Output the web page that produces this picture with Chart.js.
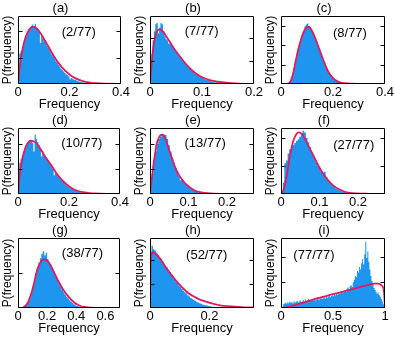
<!DOCTYPE html>
<html><head><meta charset="utf-8">
<script src="https://cdn.jsdelivr.net/npm/chart.js@4.4.0/dist/chart.umd.min.js"></script>
<style>
html,body{margin:0;padding:0;background:#fff;}
#wrap{position:relative;width:395px;height:338px;overflow:hidden;background:#fff;}
canvas{position:absolute;}
</style></head><body><div id="wrap"></div>
<script>
// ---------------- DATA ----------------
const panelTitles = ['(a)','(b)','(c)','(d)','(e)','(f)','(g)','(h)','(i)'];
const fractionLabels = ['(2/77)','(7/77)','(8/77)','(10/77)','(13/77)','(27/77)','(38/77)','(52/77)','(77/77)'];
const xTickValues = [[0,0.2,0.4],[0,0.1,0.2],[0,0.2,0.4],[0,0.2,0.4],[0,0.1,0.2],[0,0.1,0.2],[0,0.2,0.4,0.6],[0,0.2],[0,0.5,1]];
const xMaxes = [0.4,0.2,0.4,0.4,0.27,0.27,0.7,0.35,1];
const yMaxes = [2.57,2.96,3.49,2.64,2.64,2.36,2.0,2.92,2.73];
const yTickValues = [[1,2],[1,2],[1,2,3],[1,2],[1,2],[1,2],[1],[1,2],[1,2]];
const binStarts = [0,0,0.025,0,0,0.0043,0.03,0,0];
const binWidths = [0.005,0.0025,0.005,0.005,0.0043,0.0043,0.01,0.005,0.01];

const histA = [0.35,1.15,1.25,1.35,1.5,1.7,1.85,1.95,2.05,2.1,2.2,2.25,2.18,2.28,2.12,2.05,1.98,1.55,1.85,1.72,1.62,1.55,1.45,1.38,1.28,1.2,1.1,1.02,0.95,0.86,0.8,0.72,0.66,0.58,0.52,0.47,0.42,0.37,0.33,0.29,0.18,0.23,0.2,0.17,0.15,0.13,0.11,0.09,0.08,0.07,0.06,0.05,0.04,0.035,0.03,0.025,0.02,0.015,0.012,0.01];
const histB = [0.6,1.3,1.9,2.3,2.6,2.65,2.2,2.45,2.65,2.6,2.3,2.1,1.95,1.9,1.75,1.8,1.7,1.62,1.55,1.45,1.4,1.32,1.26,1.18,1.1,1.02,0.95,0.88,0.82,0.75,0.7,0.63,0.58,0.52,0.47,0.43,0.39,0.36,0.33,0.3,0.27,0.24,0.21,0.19,0.17,0.15,0.13,0.11,0.1,0.08,0.07,0.06,0.05,0.04,0.03,0.02];
const histC = [0.03,0.08,0.18,0.35,0.6,0.92,1.22,1.55,1.85,2.1,2.35,2.55,2.75,2.95,3.05,3.1,2.98,2.92,2.8,2.65,2.5,2.32,2.15,1.95,1.78,1.6,1.42,1.25,1.08,0.92,0.78,0.65,0.53,0.43,0.35,0.28,0.22,0.17,0.13,0.1,0.08,0.06,0.045,0.035,0.025,0.02,0.015,0.01];
const histD = [0.5,1.25,1.4,1.55,1.65,1.78,1.9,2.0,2.05,2.1,2.15,2.05,1.7,2.37,2.2,2.08,1.95,1.85,1.5,1.72,1.6,1.5,1.42,1.35,1.26,1.18,1.08,1.0,0.75,0.86,0.8,0.72,0.65,0.58,0.53,0.48,0.43,0.38,0.34,0.3,0.26,0.23,0.2,0.17,0.15,0.12,0.1,0.09,0.07,0.06,0.05,0.04,0.035,0.03,0.025,0.02,0.015,0.012,0.01,0.008];
const histE = [0.3,0.8,1.3,1.7,2.0,2.2,2.3,2.36,2.38,2.36,2.2,1.95,1.7,1.45,1.25,1.05,0.9,0.72,0.55,0.6,0.5,0.42,0.35,0.29,0.23,0.19,0.15,0.12,0.09,0.07,0.05,0.04,0.03,0.02,0.015,0.01];
const histF = [0.4,1.1,1.2,1.45,1.6,1.7,1.75,1.82,1.9,1.95,2.05,2.15,2.26,2.2,2.0,1.85,1.68,1.52,1.4,1.25,1.12,1.0,0.9,0.8,0.76,0.8,0.62,0.5,0.42,0.36,0.3,0.25,0.2,0.16,0.13,0.1,0.08,0.06,0.05,0.035,0.025,0.015,0.01];
const histG = [0.05,0.08,0.1,0.14,0.2,0.3,0.45,0.62,0.8,1.0,1.18,1.3,1.42,1.55,1.62,1.5,1.58,1.4,1.32,1.25,1.15,1.05,0.95,0.85,0.78,0.68,0.6,0.52,0.45,0.38,0.32,0.27,0.22,0.18,0.14,0.11,0.08,0.06,0.04,0.03,0.02,0.01];
const histH = [2.2,2.6,2.45,2.4,2.3,2.2,2.1,2.05,1.95,1.85,1.75,1.7,1.6,1.5,1.42,1.3,1.22,1.12,1.05,0.95,0.88,0.8,0.72,0.66,0.6,0.53,0.48,0.42,0.38,0.34,0.3,0.26,0.23,0.2,0.18,0.15,0.13,0.11,0.1,0.08,0.07,0.06,0.05,0.04,0.035,0.03,0.025,0.02,0.015,0.01];
const histI = [0.02,0.05,0.15,0.18,0.2,0.17,0.22,0.19,0.25,0.2,
  0.22,0.18,0.26,0.2,0.24,0.28,0.21,0.25,0.3,0.23,
  0.26,0.3,0.24,0.33,0.27,0.29,0.35,0.26,0.31,0.28,
  0.33,0.29,0.38,0.3,0.34,0.42,0.32,0.36,0.4,0.35,
  0.38,0.45,0.36,0.48,0.4,0.44,0.52,0.42,0.47,0.5,
  0.46,0.55,0.5,0.58,0.52,0.62,0.55,0.6,0.66,0.58,
  0.64,0.7,0.62,0.75,0.8,0.72,0.85,0.9,0.82,1.0,
  1.1,1.25,1.2,1.45,1.38,1.6,1.5,1.75,1.9,1.7,
  2.1,2.58,1.95,2.2,1.8,1.5,1.25,1.05,0.9,0.78,
  0.7,0.62,0.55,0.6,0.5,0.45,0.35,0.25,0.15,0.05];

const curveXA = [0,0.01,0.02,0.03,0.04,0.05,0.06,0.07,0.08,0.09,0.1,0.12,0.14,0.16,0.18,0.2,0.22,0.24,0.26,0.28,0.3,0.34,0.4];
const curveYA = [0,0.9,1.42,1.78,2.0,2.13,2.16,2.12,2.02,1.88,1.72,1.38,1.04,0.76,0.53,0.36,0.23,0.15,0.09,0.055,0.03,0.01,0.003];
const curveXB = [0,0.003,0.006,0.01,0.014,0.018,0.022,0.026,0.03,0.038,0.046,0.055,0.065,0.077,0.086,0.096,0.105,0.115,0.125,0.134,0.15,0.17,0.2];
const curveYB = [0,0.8,1.55,2.05,2.3,2.38,2.35,2.26,2.12,1.84,1.55,1.27,0.98,0.68,0.5,0.35,0.25,0.17,0.12,0.087,0.045,0.02,0.005];
const curveXC = [0,0.02,0.035,0.045,0.055,0.065,0.075,0.085,0.095,0.103,0.112,0.124,0.134,0.144,0.154,0.163,0.172,0.182,0.192,0.201,0.214,0.227,0.245,0.27,0.3,0.4];
const curveYC = [0,0,0.1,0.45,1.08,1.7,2.2,2.6,2.86,2.94,2.88,2.6,2.28,1.91,1.55,1.23,0.92,0.63,0.43,0.29,0.16,0.09,0.045,0.02,0.01,0.002];
const curveXD = [0,0.005,0.0105,0.017,0.023,0.03,0.036,0.043,0.05,0.06,0.075,0.087,0.1,0.113,0.127,0.14,0.153,0.166,0.179,0.192,0.205,0.218,0.231,0.257,0.28,0.3,0.35,0.4];
const curveYD = [0,0.6,1.06,1.4,1.66,1.88,2.0,2.09,2.13,2.11,2.0,1.82,1.6,1.4,1.2,1.0,0.8,0.63,0.49,0.37,0.27,0.19,0.13,0.07,0.035,0.02,0.007,0.003];
const curveXE = [0,0.0043,0.0086,0.013,0.0173,0.0216,0.0259,0.0324,0.0378,0.0432,0.0497,0.0562,0.0626,0.0691,0.0756,0.0821,0.0886,0.095,0.1037,0.1123,0.121,0.1296,0.1426,0.1555,0.1836,0.27];
const curveYE = [0,0.55,1.13,1.6,2.0,2.2,2.33,2.37,2.28,2.06,1.76,1.46,1.18,0.93,0.75,0.6,0.47,0.37,0.26,0.17,0.11,0.07,0.04,0.02,0.006,0];
const curveXF = [0,0.006,0.0148,0.0233,0.032,0.0389,0.0454,0.0518,0.0583,0.0713,0.0842,0.0972,0.1102,0.1231,0.1361,0.1534,0.1706,0.1966,0.2268,0.27];
const curveYF = [0,0.12,0.65,1.37,1.9,2.12,2.2,2.17,2.08,1.72,1.37,1.01,0.71,0.48,0.3,0.15,0.06,0.02,0.007,0];
const curveXG = [0,0.03,0.064,0.098,0.132,0.155,0.177,0.211,0.245,0.279,0.313,0.348,0.382,0.416,0.45,0.5,0.6,0.7];
const curveYG = [0,0,0.13,0.51,1.09,1.31,1.39,1.3,1.04,0.75,0.51,0.32,0.17,0.08,0.03,0.01,0.002,0];
const curveXH = [0,0.003,0.009,0.02,0.034,0.056,0.078,0.101,0.124,0.146,0.168,0.202,0.236,0.27,0.314,0.35];
const curveYH = [0,2.0,2.33,2.25,2.06,1.64,1.29,0.95,0.67,0.49,0.35,0.21,0.11,0.07,0.03,0.02];
const curveXI = [0,0.05,0.1,0.15,0.2,0.3,0.4,0.5,0.6,0.7,0.8,0.86,0.9,0.93,0.96,0.98,0.99,1.0];
const curveYI = [0,0.02,0.07,0.13,0.19,0.32,0.43,0.54,0.64,0.75,0.86,0.92,0.95,0.95,0.91,0.82,0.65,0];

const hists = [histA,histB,histC,histD,histE,histF,histG,histH,histI];
const curvesX = [curveXA,curveXB,curveXC,curveXD,curveXE,curveXF,curveXG,curveXH,curveXI];
const curvesY = [curveYA,curveYB,curveYC,curveYD,curveYE,curveYF,curveYG,curveYH,curveYI];

// ---------------- LAYOUT / STYLE ----------------
const plotRects = [ // [left, top, right, bottom] of plotting areas
  [18,16,121,84],[150,16,254,84],[281,16,385,84],
  [18,128,120,194],[150,128,254,194],[281,128,385,194],
  [18,238,120,308],[150,238,254,308],[281,238,385,308]];
const labelPos = [[0.59,0.245],[0.497,0.228],[0.663,0.25],[0.625,0.227],[0.53,0.227],[0.70,0.258],[0.632,0.214],[0.545,0.243],[0.317,0.243]];
const BAR = '#1e96f0', CURVE = '#e6185c';
const FONT = "'Liberation Sans', Arial, Helvetica, sans-serif";
Chart.defaults.font.family = FONT;
Chart.defaults.color = '#000';

const framePlugin = {
  id: 'frame',
  afterDatasetsDraw(chart, args, opts) {
    const {ctx, chartArea: ca} = chart;
    const ys = chart.scales.y;
    ctx.save();
    ctx.strokeStyle = '#000'; ctx.lineWidth = 1;
    const l = Math.round(ca.left) + 0.5, t = Math.round(ca.top) + 0.5, r = Math.round(ca.right) - 0.5, b = Math.round(ca.bottom) - 0.5;
    ctx.beginPath();
    ctx.rect(l, t, r - l, b - t);
    opts.yTicks.forEach(v => {
      const y = Math.round(ys.getPixelForValue(v)) + 0.5;
      ctx.moveTo(l, y); ctx.lineTo(l + 4, y);
      ctx.moveTo(r, y); ctx.lineTo(r - 4, y);
    });
    ctx.stroke();
    ctx.fillStyle = '#000';
    ctx.font = '13px ' + FONT;
    ctx.textAlign = 'center'; ctx.textBaseline = 'middle';
    ctx.fillText(opts.label, ca.left + opts.pos[0] * (ca.right - ca.left), ca.top + opts.pos[1] * (ca.bottom - ca.top));
    ctx.restore();
  }
};

const wrap = document.getElementById('wrap');
for (let p = 0; p < 9; p++) {
  const [L, T, R, B] = plotRects[p];
  const cv = document.createElement('canvas');
  const cl = L - 18, ct = T - 16;
  const w = (R - L) + 18 + 14, h = (B - T) + 16 + 24 + 6;
  cv.width = w; cv.height = h;
  cv.style.left = cl + 'px'; cv.style.top = ct + 'px';
  cv.style.width = w + 'px'; cv.style.height = h + 'px';
  wrap.appendChild(cv);
  // histogram as a filled step outline: left bin edges, then closing edge at zero
  const hv = hists[p];
  const steps = hv.map((v, i) => ({x: binStarts[p] + binWidths[p] * i, y: v}));
  steps.push({x: binStarts[p] + binWidths[p] * hv.length, y: 0});
  const curve = curvesX[p].map((x, i) => ({x: x, y: curvesY[p][i]}));
  const xt = xTickValues[p];
  new Chart(cv, {
    type: 'line',
    data: {datasets: [
      {data: curve, borderColor: CURVE, borderWidth: 1.8, pointRadius: 0, cubicInterpolationMode: 'monotone', fill: false, order: 1},
      {data: steps, stepped: 'before', borderWidth: 0, borderColor: 'rgba(0,0,0,0)', backgroundColor: BAR, fill: 'origin', pointRadius: 0, tension: 0, order: 2}
    ]},
    options: {
      responsive: false, animation: false, devicePixelRatio: 1,
      layout: {padding: {left: 0, top: 0, right: 14, bottom: 6}},
      plugins: {
        legend: {display: false}, tooltip: {enabled: false},
        title: {display: true, text: panelTitles[p], font: {size: 13, lineHeight: '16px', weight: 'normal'}, padding: 0, color: '#000'},
        frame: {yTicks: yTickValues[p], label: fractionLabels[p], pos: labelPos[p]}
      },
      scales: {
        x: {type: 'linear', min: 0, max: xMaxes[p], offset: false,
          grid: {display: false, drawTicks: false}, border: {display: false},
          afterBuildTicks: ax => { ax.ticks = xt.map(v => ({value: v})); },
          ticks: {font: {size: 13, lineHeight: '15px'}, padding: 0.5, maxRotation: 0, autoSkip: false, color: '#000',
            callback: v => String(v)},
          title: {display: true, text: 'Frequency', font: {size: 13, lineHeight: '8px'}, padding: 0, color: '#000'}
        },
        y: {type: 'linear', min: 0, max: yMaxes[p],
          grid: {display: false, drawTicks: false}, border: {display: false},
          ticks: {display: false},
          title: {display: true, text: 'P(frequency)', font: {size: 12, lineHeight: '14px'}, padding: {top: 1, bottom: 3}, color: '#000'}
        }
      }
    },
    plugins: [framePlugin]
  });
}
</script></body></html>
